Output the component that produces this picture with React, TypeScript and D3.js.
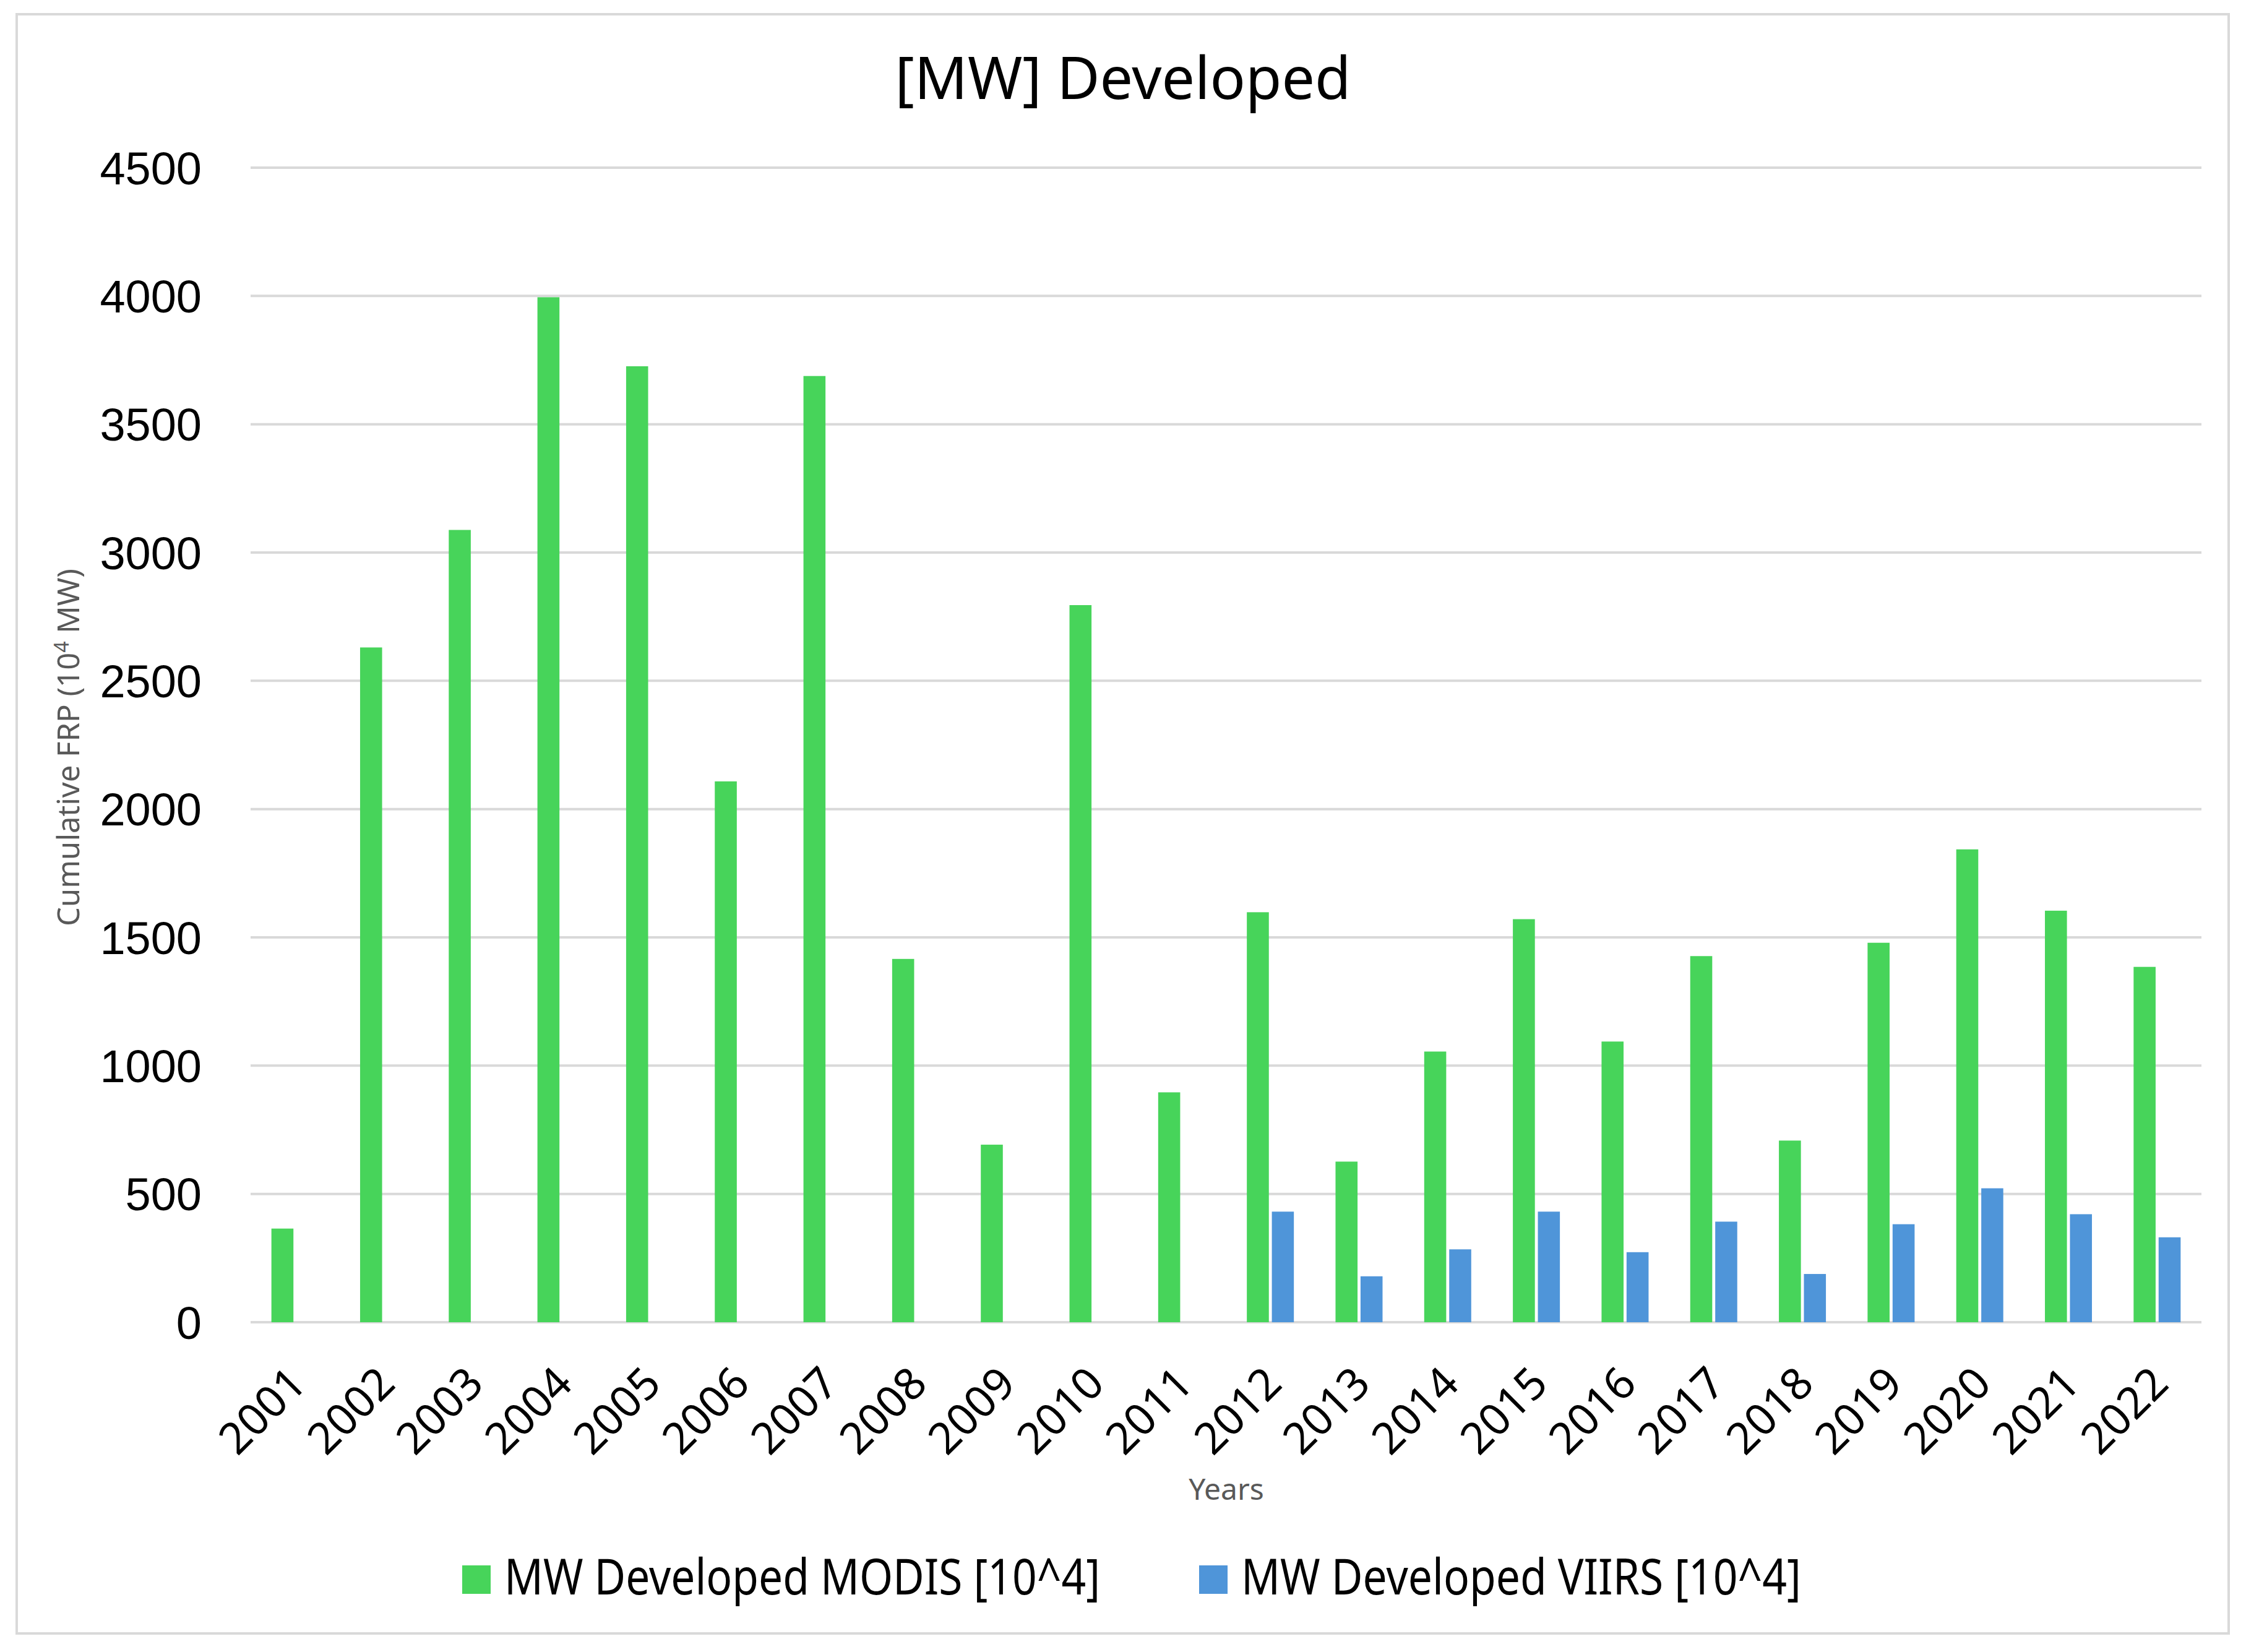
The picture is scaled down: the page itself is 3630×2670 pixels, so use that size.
import React from 'react';
import * as d3 from 'd3';

const width = 3630;
const height = 2670;

const years = [
  '2001', '2002', '2003', '2004', '2005', '2006', '2007', '2008', '2009', '2010', '2011',
  '2012', '2013', '2014', '2015', '2016', '2017', '2018', '2019', '2020', '2021', '2022',
];
const modis = [
  365, 2630, 3088, 3995, 3726, 2108, 3688, 1416, 692, 2795, 896,
  1598, 626, 1055, 1571, 1094, 1427, 708, 1479, 1843, 1604, 1385,
];
const viirs = [
  null, null, null, null, null, null, null, null, null, null, null,
  431, 179, 284, 431, 273, 392, 188, 382, 522, 421, 331,
];
const yTicks = [0, 500, 1000, 1500, 2000, 2500, 3000, 3500, 4000, 4500];
const seriesNames = ['MW Developed MODIS [10^4]', 'MW Developed VIIRS [10^4]'];
const colors = ['#47D45A', '#4F95D9'];

const plot = { left: 405, right: 3558, top: 271, bottom: 2137 };

const App: React.FC = () => {
  const x0 = d3.scaleBand<string>().domain(years).range([plot.left, plot.right]);
  const x1 = d3.scaleBand<string>().domain(['m', 'v']).range([-38, 38]).paddingInner(0.12);
  const y = d3.scaleLinear().domain([0, 4500]).range([plot.bottom, plot.top]);
  const center = (yr: string) => (x0(yr) ?? 0) + x0.bandwidth() / 2;

  return (
    <svg
      width={width}
      height={height}
      style={{ position: 'absolute', top: 0, left: 0, background: '#fff' }}
    >
      <rect x={0} y={0} width={width} height={height} fill="#fff" />
      <rect x={27} y={23} width={3575} height={2617} fill="none" stroke="#d9d9d9" strokeWidth={4} />

      <text
        x={1815}
        y={160}
        textAnchor="middle"
        fontFamily="Noto Sans"
        fontSize={95}
        fill="#000"
      >
        [MW] Developed
      </text>

      {yTicks.map(t => (
        <g key={t}>
          <line x1={plot.left} x2={plot.right} y1={y(t)} y2={y(t)} stroke="#d9d9d9" strokeWidth={4} />
          <text
            x={326}
            y={y(t)}
            dy="0.36em"
            textAnchor="end"
            fontFamily="Liberation Sans"
            fontSize={74}
            fill="#000"
          >
            {t}
          </text>
        </g>
      ))}

      {years.map((yr, i) => (
        <g key={yr}>
          <rect
            x={center(yr) + (x1('m') ?? 0)}
            y={y(modis[i])}
            width={x1.bandwidth()}
            height={y(0) - y(modis[i])}
            fill={colors[0]}
          />
          {viirs[i] != null && (
            <rect
              x={center(yr) + (x1('v') ?? 0)}
              y={y(viirs[i] as number)}
              width={x1.bandwidth()}
              height={y(0) - y(viirs[i] as number)}
              fill={colors[1]}
            />
          )}
          <text
            transform={`translate(${center(yr) + 22},${2240}) rotate(-45)`}
            textAnchor="end"
            fontFamily="Noto Sans"
            fontSize={71}
            fill="#000"
          >
            {yr}
          </text>
        </g>
      ))}

      <text
        x={1982}
        y={2424}
        textAnchor="middle"
        fontFamily="Noto Sans"
        fontSize={48}
        fill="#595959"
      >
        Years
      </text>

      <text
        transform={`translate(128,${(plot.top + plot.bottom) / 2 + 4}) rotate(-90)`}
        textAnchor="middle"
        fontFamily="Noto Sans"
        fontSize={49}
        fill="#595959"
      >
        Cumulative FRP (10
        <tspan dy={-17} fontSize={32}>4</tspan>
        <tspan dy={17}> MW)</tspan>
      </text>

      {seriesNames.map((name, i) => {
        const sx = i === 0 ? 747 : 1938;
        return (
          <g key={name}>
            <rect x={sx} y={2530} width={46} height={46} fill={colors[i]} />
            <text
              x={sx + 68}
              y={2577}
              fontFamily="Noto Sans"
              fontSize={80}
              textLength={i === 0 ? 963 : 905}
              lengthAdjust="spacingAndGlyphs"
              fill="#000"
            >
              {name}
            </text>
          </g>
        );
      })}
    </svg>
  );
};

export default App;
